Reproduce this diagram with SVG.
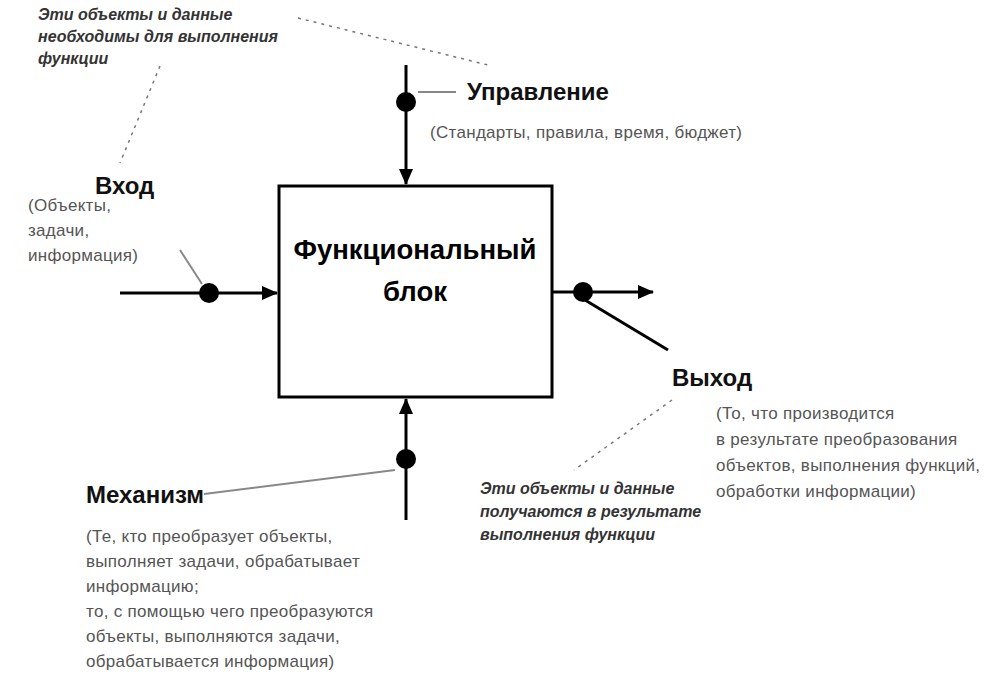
<svg xmlns="http://www.w3.org/2000/svg" width="986" height="682" viewBox="0 0 986 682">
<style>
.t{font-family:"Liberation Sans",Arial,sans-serif}
.h{font-weight:bold;font-size:24px;fill:#111}
.g{font-size:17px;fill:#555;letter-spacing:0.3px}
.n{font-weight:bold;font-style:italic;font-size:16px;fill:#333}
.a{stroke:#000;stroke-width:3;fill:none}
.d{stroke:#777;stroke-width:1.5;stroke-dasharray:3 5;fill:none}
.l{stroke:#888;stroke-width:2;fill:none}
</style>
<defs>
<marker id="ar2" markerWidth="16" markerHeight="16" refX="15" refY="8" orient="auto" markerUnits="userSpaceOnUse" viewBox="0 0 16 16"><path d="M0,1 L16,8 L0,15z" fill="#000"/></marker></defs>
<rect width="986" height="682" fill="#fff"/>
<g id="block"><rect x="279" y="186" width="273" height="211" fill="#fff" stroke="#000" stroke-width="3"/>
<text class="t" x="415" y="259" text-anchor="middle" font-size="27.5" font-weight="bold">Функциональный</text>
<text class="t" x="415" y="301" text-anchor="middle" font-size="27.5" font-weight="bold">блок</text></g>
<g id="connectors">
<line class="a" x1="406" y1="65" x2="406" y2="184" marker-end="url(#ar2)"/>
<circle cx="406" cy="102" r="10"/>
<line class="l" x1="418" y1="92" x2="456" y2="92"/>
<line class="a" x1="120" y1="293" x2="277" y2="293" marker-end="url(#ar2)"/>
<circle cx="209" cy="293" r="10"/>
<line class="l" x1="180" y1="250" x2="202" y2="284"/>
<line class="a" x1="552" y1="292" x2="653" y2="292" marker-end="url(#ar2)"/>
<circle cx="583" cy="292" r="10"/>
<line stroke="#000" stroke-width="3" x1="585" y1="300" x2="668" y2="350"/>
<line class="a" x1="406" y1="520" x2="406" y2="399" marker-end="url(#ar2)"/>
<circle cx="406" cy="459" r="10"/>
<line class="l" x1="204" y1="494" x2="395" y2="470"/>
<line class="d" x1="160" y1="66" x2="120" y2="163"/>
<line class="d" x1="298" y1="18" x2="492" y2="66"/>
<line class="d" x1="672" y1="400" x2="574" y2="470"/>
</g>
<g id="control"><text class="t h" x="467" y="100">Управление</text>
<text class="t g" x="430" y="138">(Стандарты, правила, время, бюджет)</text></g>
<g id="input"><text class="t h" x="95" y="194">Вход</text>
<text class="t g" x="28" y="211">(Объекты,</text><text class="t g" x="28" y="236">задачи,</text><text class="t g" x="28" y="261">информация)</text></g>
<g id="output"><text class="t h" x="672" y="386">Выход</text>
<text class="t g" x="716" y="419">(То, что производится</text>
<text class="t g" x="716" y="445">в результате преобразования</text>
<text class="t g" x="716" y="471">объектов, выполнения функций,</text>
<text class="t g" x="716" y="497">обработки информации)</text></g>
<g id="mechanism"><text class="t h" x="86" y="503">Механизм</text>
<text class="t g" x="86" y="542">(Те, кто преобразует объекты,</text>
<text class="t g" x="86" y="567">выполняет задачи, обрабатывает</text>
<text class="t g" x="86" y="592">информацию;</text>
<text class="t g" x="86" y="617">то, с помощью чего преобразуются</text>
<text class="t g" x="86" y="642">объекты, выполняются задачи,</text>
<text class="t g" x="86" y="667">обрабатывается информация)</text></g>
<g id="note-top"><text class="t n" x="38" y="20">Эти объекты и данные</text>
<text class="t n" x="38" y="42">необходимы для выполнения</text>
<text class="t n" x="38" y="64">функции</text></g>
<g id="note-bottom"><text class="t n" x="480" y="494">Эти объекты и данные</text>
<text class="t n" x="480" y="517">получаются в результате</text>
<text class="t n" x="480" y="540">выполнения функции</text></g>
</svg>
